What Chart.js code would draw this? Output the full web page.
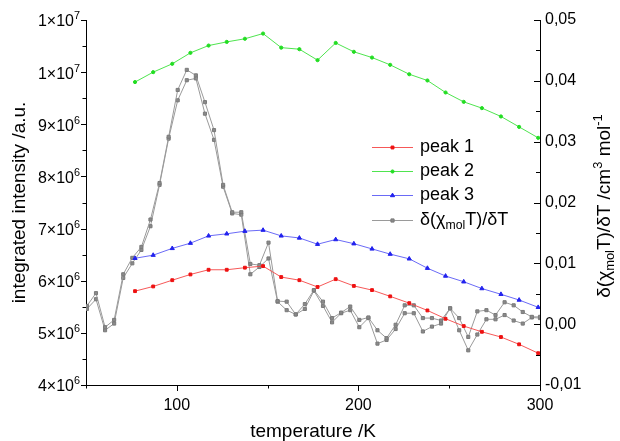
<!DOCTYPE html>
<html>
<head>
<meta charset="utf-8">
<script src="https://cdn.jsdelivr.net/npm/chart.js"></script>
<style>
  html, body { margin: 0; padding: 0; background: #fff; }
  canvas { display: block; }
</style>
</head>
<body>
<canvas id="chart" width="620" height="441"></canvas>
<script>
/* ===================== DATA ===================== */
const FONT = '"Liberation Sans", Arial, sans-serif';

// temperature (K) of the three peak fits
const peakT = [77, 87, 97.5, 107.5, 117.5, 127.5, 137.5, 147.5, 157.5, 167.5, 177.5, 187.5,
               197.5, 207.5, 217.5, 228, 238, 248, 258, 268, 278.5, 288.5, 299];
const peak1 = [5.80e6, 5.89e6, 6.01e6, 6.12e6, 6.21e6, 6.21e6, 6.25e6, 6.28e6, 6.07e6, 6.01e6, 5.88e6, 6.03e6,
               5.90e6, 5.82e6, 5.70e6, 5.57e6, 5.43e6, 5.27e6, 5.13e6, 5.02e6, 4.92e6, 4.78e6, 4.61e6];
const peak2 = [9.81e6, 10.00e6, 10.16e6, 10.37e6, 10.51e6, 10.58e6, 10.64e6, 10.74e6, 10.47e6, 10.44e6, 10.23e6, 10.56e6,
               10.39e6, 10.28e6, 10.14e6, 9.96e6, 9.84e6, 9.61e6, 9.43e6, 9.31e6, 9.15e6, 8.95e6, 8.74e6];
const peak3 = [6.43e6, 6.49e6, 6.62e6, 6.72e6, 6.86e6, 6.90e6, 6.95e6, 6.97e6, 6.86e6, 6.82e6, 6.70e6, 6.79e6,
               6.71e6, 6.61e6, 6.51e6, 6.42e6, 6.24e6, 6.09e6, 5.98e6, 5.85e6, 5.74e6, 5.63e6, 5.49e6];

// d(chi T)/dT, two runs (right axis)
const gT = [50.5, 55.5, 60.5, 65.5, 70.5, 75.5, 80.5, 85.5, 90.5, 95.5,
            100.5, 105.5, 110.5, 115.5, 120.5, 125.5, 130.5, 135.5, 140.5, 145.5,
            150.5, 155.5, 160.5, 165.5, 170.5, 175.5, 180.5, 185.5, 190.5, 195.5,
            200.5, 205.5, 210.5, 215.5, 220.5, 225.5, 230.5, 235.5, 240.5, 245.5,
            250.5, 255.5, 260.5, 265.5, 270.5, 275.5, 280.5, 285.5, 290.5, 295.5, 300];
const gUp = [0.0030, 0.0051, -0.0005, 0.0007, 0.0082, 0.0109, 0.0127, 0.0172, 0.0232, 0.0308,
             0.0385, 0.0418, 0.0409, 0.0365, 0.0319, 0.0229, 0.0184, 0.0184, 0.0099, 0.0097,
             0.0134, 0.0038, 0.0037, 0.0016, 0.0033, 0.0056, 0.0037, 0.0010, 0.0019, 0.0029,
             0.0007, 0.0011, -0.0010, -0.0023, -0.0001, 0.0031, 0.0031, 0.0010, 0.0010, 0.0006,
             0.0026, 0.0010, -0.0021, 0.0021, 0.0023, 0.0015, 0.0036, 0.0031, 0.0020, 0.0012, 0.0012];
const gDown = [0.0025, 0.0041, -0.0010, 0.0001, 0.0076, 0.0100, 0.0122, 0.0161, 0.0229, 0.0305,
               0.0368, 0.0401, 0.0404, 0.0346, 0.0303, 0.0226, 0.0182, 0.0180, 0.0082, 0.0094,
               0.0108, 0.0037, 0.0023, 0.0016, 0.0025, 0.0055, 0.0030, 0.0003, 0.0018, 0.0023,
               -0.0005, 0.0010, -0.0032, -0.0026, -0.0008, 0.0018, 0.0018, -0.0012, -0.0004, 0.0001,
               0.0026, -0.0010, -0.0043, -0.0017, 0.0008, 0.0008, 0.0015, 0.0006, 0.0001, 0.0011, 0.0010];

const xTicks = [100, 200, 300];
const leftTicks = [4e6, 5e6, 6e6, 7e6, 8e6, 9e6, 1.0e7, 1.1e7];
const rightTicks = [-0.01, 0, 0.01, 0.02, 0.03, 0.04, 0.05];
const names = ['peak 1', 'peak 2', 'peak 3'];

/* ===================== HELPERS ===================== */
const xy = (xs, ys) => xs.map((x, i) => ({ x, y: ys[i] }));

// draws text made of [string, 'sub'|'sup'|''] parts, starting at x (left), middle baseline y
function richText(ctx, parts, x, y, size) {
  ctx.textAlign = 'left';
  ctx.textBaseline = 'middle';
  parts.forEach(([t, k]) => {
    const s = k ? size * 0.68 : size;
    const dy = k === 'sub' ? size * 0.3 : k === 'sup' ? -size * 0.35 : 0;
    ctx.font = s + 'px ' + FONT;
    ctx.fillText(t, x, y + dy);
    x += ctx.measureText(t).width;
  });
  return x;
}
function richWidth(ctx, parts, size) {
  let w = 0;
  parts.forEach(([t, k]) => {
    ctx.font = (k ? size * 0.68 : size) + 'px ' + FONT;
    w += ctx.measureText(t).width;
  });
  return w;
}

function mark(ctx, style, x, y, r, fill, stroke) {
  ctx.beginPath();
  if (style === 'rect') ctx.rect(x - r * 0.72, y - r * 0.72, r * 1.44, r * 1.44);
  else if (style === 'triangle') {
    ctx.moveTo(x, y - r);
    ctx.lineTo(x + r * 0.87, y + r * 0.5);
    ctx.lineTo(x - r * 0.87, y + r * 0.5);
    ctx.closePath();
  } else ctx.arc(x, y, r, 0, Math.PI * 2);
  ctx.fillStyle = fill;
  ctx.fill();
  ctx.strokeStyle = stroke;
  ctx.lineWidth = 1;
  ctx.stroke();
}

/* ===================== DECORATION PLUGIN ===================== */
const gLabel = [['δ(χ', ''], ['mol', 'sub'], ['T)/δT', '']];
const rightTitle = [['δ(χ', ''], ['mol', 'sub'], ['T)/δT /cm', ''], ['3', 'sup'], [' mol', ''], ['-1', 'sup']];

const decor = {
  id: 'decor',
  afterDraw(chart) {
    const ctx = chart.ctx;
    const { x, y, y2 } = chart.scales;
    const a = chart.chartArea;
    ctx.save();
    ctx.strokeStyle = '#000';
    ctx.lineWidth = 1;

    // ticks (x and left outward, right inward)
    ctx.beginPath();
    for (let v = 50; v <= 300; v += 50) {
      const px = Math.round(x.getPixelForValue(v)) + 0.5;
      ctx.moveTo(px, a.bottom);
      ctx.lineTo(px, a.bottom + (v % 100 === 0 ? 6 : 3.5));
    }
    for (let v = 4e6; v <= 1.1e7; v += 5e5) {
      const py = Math.round(y.getPixelForValue(v)) + 0.5;
      ctx.moveTo(a.left, py);
      ctx.lineTo(a.left - (v % 1e6 === 0 ? 5 : 3.5), py);
    }
    for (let i = 0; i <= 12; i++) {
      const v = -0.01 + i * 0.005;
      const py = Math.round(y2.getPixelForValue(v)) + 0.5;
      ctx.moveTo(a.right, py);
      ctx.lineTo(a.right - (i % 2 === 0 ? 6 : 4), py);
    }
    ctx.stroke();

    // left tick labels  m×10^e
    ctx.fillStyle = '#000';
    leftTicks.forEach(v => {
      const e = Math.floor(Math.log10(v));
      const m = Math.round(v / Math.pow(10, e));
      const parts = [[m + '×10', ''], [String(e), 'sup']];
      const w = richWidth(ctx, parts, 16);
      richText(ctx, parts, 80 - w, y.getPixelForValue(v) + 2, 16);
    });

    // right axis title (rotated)
    ctx.save();
    ctx.translate(605, 206);
    ctx.rotate(-Math.PI / 2);
    const tw = richWidth(ctx, rightTitle, 19);
    richText(ctx, rightTitle, -tw / 2, 0, 19);
    ctx.restore();

    // legend
    const rows = [147, 171, 195, 220];
    chart.data.datasets.slice(0, 4).forEach((ds, i) => {
      const ly = rows[i];
      ctx.beginPath();
      ctx.strokeStyle = ds.borderColor;
      ctx.lineWidth = 1;
      ctx.moveTo(372, ly + 0.5);
      ctx.lineTo(413, ly + 0.5);
      ctx.stroke();
      mark(ctx, ds.pointStyle, 392.5, ly + 0.5, ds.pointRadius, ds.pointBackgroundColor, ds.pointBorderColor);
      ctx.fillStyle = '#000';
      richText(ctx, i < 3 ? [[names[i], '']] : gLabel, 420, ly, 18);
    });
    ctx.restore();
  }
};

/* ===================== CHART ===================== */
const border = { display: true, color: '#000', width: 1 };
const noGrid = { display: false, drawTicks: false };

new Chart(document.getElementById('chart'), {
  type: 'line',
  data: {
    datasets: [
      { label: names[0], data: xy(peakT, peak1), yAxisID: 'y',
        borderColor: 'rgba(245,70,70,0.9)', borderWidth: 1, pointStyle: 'rect', pointRadius: 2,
        pointBackgroundColor: '#ee1111', pointBorderColor: '#ee1111', pointBorderWidth: 1 },
      { label: names[1], data: xy(peakT, peak2), yAxisID: 'y',
        borderColor: 'rgba(60,225,60,0.9)', borderWidth: 1, pointStyle: 'circle', pointRadius: 1.6,
        pointBackgroundColor: '#22dd22', pointBorderColor: '#22dd22', pointBorderWidth: 1 },
      { label: names[2], data: xy(peakT, peak3), yAxisID: 'y',
        borderColor: 'rgba(90,90,245,0.9)', borderWidth: 1, pointStyle: 'triangle', pointRadius: 2.4,
        pointBackgroundColor: '#2222ee', pointBorderColor: '#2222ee', pointBorderWidth: 1 },
      { label: 'δ(χmolT)/δT', data: xy(gT, gUp), yAxisID: 'y2',
        borderColor: '#9a9a9a', borderWidth: 1, pointStyle: 'rect', pointRadius: 2.2,
        pointBackgroundColor: '#8a8a8a', pointBorderColor: '#7a7a7a', pointBorderWidth: 1 },
      { label: 'δ(χmolT)/δT (2)', data: xy(gT, gDown), yAxisID: 'y2',
        borderColor: '#9a9a9a', borderWidth: 1, pointStyle: 'rect', pointRadius: 2.2,
        pointBackgroundColor: '#8a8a8a', pointBorderColor: '#7a7a7a', pointBorderWidth: 1 }
    ]
  },
  options: {
    responsive: false,
    animation: false,
    devicePixelRatio: 1,
    layout: { padding: { top: 20, left: 0, right: 0, bottom: 0 } },
    elements: { line: { tension: 0 } },
    plugins: { legend: { display: false }, tooltip: { enabled: false } },
    scales: {
      x: {
        type: 'linear', min: 50, max: 300,
        afterFit: s => { s.height = 56; },
        afterBuildTicks: s => { s.ticks = xTicks.map(v => ({ value: v })); },
        grid: noGrid, border,
        ticks: { padding: 11, color: '#000', maxRotation: 0, font: { size: 16, family: FONT } },
        title: { display: true, text: 'temperature /K', color: '#000', padding: 0,
                 font: { size: 19, family: FONT, lineHeight: 1 } }
      },
      y: {
        position: 'left', min: 4e6, max: 1.1e7,
        afterFit: s => { s.width = 86; },
        afterBuildTicks: s => { s.ticks = leftTicks.map(v => ({ value: v })); },
        grid: noGrid, border,
        ticks: { display: false },
        title: { display: true, text: 'integrated intensity /a.u.', color: '#000',
                 padding: { top: 10, bottom: 0 }, font: { size: 19, family: FONT, lineHeight: 1 } }
      },
      y2: {
        position: 'right', min: -0.01, max: 0.05,
        afterFit: s => { s.width = 80; },
        afterBuildTicks: s => { s.ticks = rightTicks.map(v => ({ value: v })); },
        grid: noGrid, border,
        ticks: {
          padding: 5, color: '#000', font: { size: 16, family: FONT },
          callback: v => (v < -1e-9 ? '-' : '') + Math.abs(v).toFixed(2).replace('.', ',')
        }
      }
    }
  },
  plugins: [decor]
});
</script>
</body>
</html>
